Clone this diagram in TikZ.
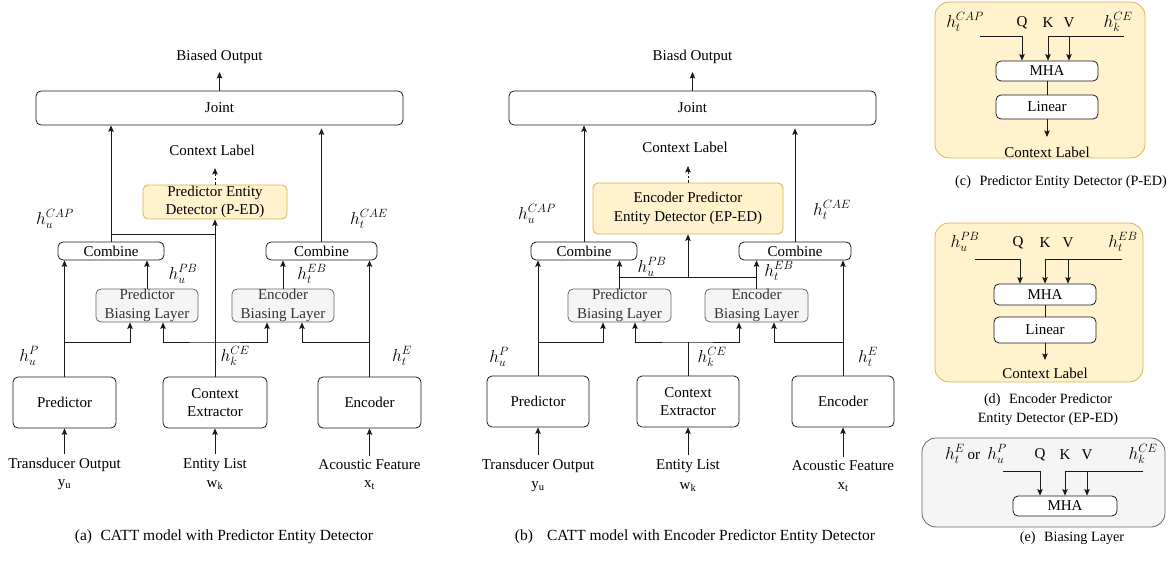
\documentclass[tikz,border=0pt]{standalone}
\usepackage{fontspec}
\setmainfont{Liberation Serif}
\usetikzlibrary{arrows.meta,calc}
\definecolor{edfill}{HTML}{FFF2CC}
\definecolor{eddraw}{HTML}{D6B656}
\definecolor{blfill}{HTML}{F5F5F5}
\definecolor{bldraw}{HTML}{666666}
\definecolor{bltext}{HTML}{333333}
\definecolor{wire}{HTML}{1A1A1A}
\tikzset{
  base/.style={font=\fontsize{15}{18.5}\selectfont},
  box/.style={base, draw=wire, line width=0.8pt, fill=white, rounded corners=5pt, inner sep=0pt, align=center},
  edbox/.style={box, fill=edfill, draw=eddraw},
  blbox/.style={box, fill=blfill, draw=bldraw, text=bltext},
  lbl/.style={base, inner sep=0pt, align=center},
  mlbl/.style={font=\fontsize{17.28}{20}\selectfont, inner sep=0pt, align=center},
  captext/.style={font=\fontsize{15.5}{18}\selectfont, inner sep=0pt, align=center},
  smallcap/.style={font=\fontsize{14.2}{19}\selectfont, inner sep=0pt, align=center},
  wireline/.style={draw=wire, line width=0.8pt},
  arr/.style={wireline, -{Stealth[length=6.5pt,width=5.5pt,inset=1.2pt]}},
  darr/.style={arr, dashed, dash pattern=on 2.5pt off 2pt},
  twoarr/.style={wireline, {Stealth[length=6.5pt,width=5.5pt,inset=1.2pt]}-{Stealth[length=6.5pt,width=5.5pt,inset=1.2pt]}},
  panel/.style={line width=0.8pt, rounded corners=14pt}
}
\begin{document}
\begin{tikzpicture}[x=1pt,y=-1pt]
\useasboundingbox (0,0) rectangle (1170,572);

% ================= Panel (a) =================
\node[box, minimum width=367pt, minimum height=34pt] (joinA) at (219.5,108) {Joint};
\node[lbl] (boA) at (219.5,57) {Biased Output};
\coordinate (boAtip) at (219.5,72);
\draw[arr] (joinA.north) -- (boAtip);

\node[edbox, minimum width=144pt, minimum height=34pt] (pedA) at (215,202) {Predictor Entity\\Detector (P-ED)};
\node[lbl] (clA) at (212,150) {Context Label};
\coordinate (clAtip) at (215,168);
\draw[darr] (pedA.north) -- (clAtip);

\node[box, minimum width=106pt, minimum height=18pt] (combLA) at (111,251) {Combine};
\node[box, minimum width=111pt, minimum height=18pt] (combRA) at (321.5,251) {Combine};
\node[blbox, minimum width=102pt, minimum height=33pt] (pblA) at (147,305.5) {Predictor\\Biasing Layer};
\node[blbox, minimum width=102pt, minimum height=33pt] (eblA) at (283,305.5) {Encoder\\Biasing Layer};
\node[box, minimum width=103pt, minimum height=51pt] (predA) at (64.5,402.5) {Predictor};
\node[box, minimum width=104pt, minimum height=51pt] (ceA) at (215,402.5) {Context\\Extractor};
\node[box, minimum width=103pt, minimum height=51pt] (encA) at (369.5,402.5) {Encoder};

\draw[arr] (combLA.north) -- (combLA.north |- joinA.south);
\draw[arr] (combRA.north) -- ($(combRA.north |- joinA.south)+(0,3)$);
\coordinate (capA) at (111,234);
\draw[wireline] (capA) -- (capA -| ceA.north);
\draw[arr] (ceA.north) -- (pedA.south);
\draw[arr] (predA.north) -- (predA.north |- combLA.south);
\draw[arr] (encA.north) -- (encA.north |- combRA.south);
\draw[arr] (pblA.north) -- (pblA.north |- combLA.south);
\draw[arr] (eblA.north) -- (eblA.north |- combRA.south);
\coordinate (kvA) at (215,342);
\draw[arr] (predA.north |- kvA) -| ($(pblA.south)+(-17,0)$);
\draw[twoarr] ($(pblA.south)+(16,0)$) |- (kvA) -| ($(eblA.south)+(-16,0)$);
\draw[arr] (encA.north |- kvA) -| ($(eblA.south)+(19,0)$);

\node[mlbl] at (55,219) {$h_u^{CAP}$};
\node[mlbl] at (369,219) {$h_t^{CAE}$};
\node[mlbl] at (183,274) {$h_u^{PB}$};
\node[mlbl] at (312,274) {$h_t^{EB}$};
\node[mlbl] at (29,356) {$h_u^{P}$};
\node[mlbl] at (235,356) {$h_k^{CE}$};
\node[mlbl] at (402,356) {$h_t^{E}$};

\node[lbl] (inA1) at (64.5,465) {Transducer Output};
\node[lbl] at (64.5,485) {y\textsubscript{u}};
\node[lbl] (inA2) at (215,465) {Entity List};
\node[lbl] at (215,485) {w\textsubscript{k}};
\node[lbl] (inA3) at (369.5,465) {Acoustic Feature};
\node[lbl] at (369.5,485) {x\textsubscript{t}};
\draw[arr] ($(inA1.north)+(0,-4)$) -- (predA.south);
\draw[arr] ($(inA2.north)+(0,-4)$) -- (ceA.south);
\draw[arr] ($(inA3.north)+(0,-4)$) -- (encA.south);

\node[captext] at (224,537) {(a)\hspace{0.55em}CATT model with Predictor Entity Detector};

% ================= Panel (b) =================
\node[box, minimum width=367pt, minimum height=34pt] (joinB) at (692.5,108) {Joint};
\node[lbl] (boB) at (692.5,57) {Biasd Output};
\coordinate (boBtip) at (692.5,72);
\draw[arr] (joinB.north) -- (boBtip);

\node[edbox, minimum width=190pt, minimum height=51pt] (epedB) at (688,208.5) {Encoder Predictor\\Entity Detector (EP-ED)};
\node[lbl] (clB) at (685,147) {Context Label};
\coordinate (clBtip) at (688,166);
\draw[darr] (epedB.north) -- (clBtip);

\node[box, minimum width=106pt, minimum height=18pt] (combLB) at (584,251) {Combine};
\node[box, minimum width=112pt, minimum height=18pt] (combRB) at (795,251) {Combine};
\node[blbox, minimum width=103pt, minimum height=33pt] (pblB) at (619.5,305.5) {Predictor\\Biasing Layer};
\node[blbox, minimum width=103pt, minimum height=33pt] (eblB) at (756.5,305.5) {Encoder\\Biasing Layer};
\node[box, minimum width=102pt, minimum height=51pt] (predB) at (538,401.5) {Predictor};
\node[box, minimum width=102pt, minimum height=51pt] (ceB) at (688,401.5) {Context\\Extractor};
\node[box, minimum width=102pt, minimum height=51pt] (encB) at (843,401.5) {Encoder};

\draw[arr] (combLB.north) -- (combLB.north |- joinB.south);
\draw[arr] (combRB.north) -- ($(combRB.north |- joinB.south)+(0,3)$);
\draw[arr] (pblB.north) -- (pblB.north |- combLB.south);
\draw[arr] (eblB.north) -- (eblB.north |- combRB.south);
\coordinate (midB) at (688,277);
\draw[wireline] (pblB.north |- midB) -- (eblB.north |- midB);
\draw[arr] (midB) -- (epedB.south);
\draw[arr] (predB.north) -- (predB.north |- combLB.south);
\draw[arr] (encB.north) -- (encB.north |- combRB.south);
\coordinate (kvB) at (688,342);
\draw[wireline] (ceB.north) -- (kvB);
\draw[arr] (predB.north |- kvB) -| ($(pblB.south)+(-16.5,0)$);
\draw[twoarr] ($(pblB.south)+(15.5,0)$) |- (kvB) -| ($(eblB.south)+(-17.5,0)$);
\draw[arr] (encB.north |- kvB) -| ($(eblB.south)+(17.5,0)$);

\node[mlbl] at (537,214) {$h_u^{CAP}$};
\node[mlbl] at (832,210) {$h_t^{CAE}$};
\node[mlbl] at (652,267) {$h_u^{PB}$};
\node[mlbl] at (779,271) {$h_t^{EB}$};
\node[mlbl] at (499,357) {$h_u^{P}$};
\node[mlbl] at (712,357) {$h_k^{CE}$};
\node[mlbl] at (868,357) {$h_t^{E}$};

\node[lbl] (inB1) at (538,466) {Transducer Output};
\node[lbl] at (538,487) {y\textsubscript{u}};
\node[lbl] (inB2) at (688,466) {Entity List};
\node[lbl] at (688,487) {w\textsubscript{k}};
\node[lbl] (inB3) at (843,466) {Acoustic Feature};
\node[lbl] at (843,487) {x\textsubscript{t}};
\draw[arr] ($(inB1.north)+(0,-4)$) -- (predB.south);
\draw[arr] ($(inB2.north)+(0,-4)$) -- (ceB.south);
\draw[arr] ($(inB3.north)+(0,-4)$) -- (encB.south);

\node[captext] at (695,537) {(b)\hspace{0.9em}CATT model with Encoder Predictor Entity Detector};

% ================= Panel (c) =================
\draw[panel, fill=edfill, draw=eddraw] (935,2) rectangle (1145,158);
\node[box, minimum width=102pt, minimum height=20pt] (mhaC) at (1047,71) {MHA};
\node[box, minimum width=102pt, minimum height=24pt] (linC) at (1047,107) {Linear};
\node[mlbl] at (965,22) {$h_t^{CAP}$};
\node[lbl] at (1022,23) {Q};
\node[lbl] at (1048,23) {K};
\node[lbl] at (1069,23) {V};
\node[mlbl] at (1118,22) {$h_k^{CE}$};
\coordinate (qC) at (980,36);
\coordinate (kvC) at (1124,36);
\coordinate (qinC) at ($(mhaC.north)+(-25,0)$);
\coordinate (kinC) at ($(mhaC.north)+(1,0)$);
\coordinate (vinC) at ($(mhaC.north)+(22,0)$);
\draw[arr] (qC) -| (qinC);
\draw[arr] (kvC) -| (kinC);
\draw[arr] (vinC |- kvC) -- (vinC);
\draw[wireline] (mhaC.south) -- (linC.north);
\node[lbl] (clC) at (1047,152) {Context Label};
\coordinate (clCtip) at (1047,137);
\draw[arr] (linC.south) -- (clCtip);
\node[smallcap] at (1061,182) {(c)\hspace{0.6em}Predictor Entity Detector (P-ED)};

% ================= Panel (d) =================
\draw[panel, fill=edfill, draw=eddraw] (935,223) rectangle (1143,382);
\node[box, minimum width=102pt, minimum height=21pt] (mhaD) at (1045,294.5) {MHA};
\node[box, minimum width=102pt, minimum height=26pt] (linD) at (1045,330) {Linear};
\node[mlbl] at (965,242) {$h_u^{PB}$};
\node[lbl] at (1018,243) {Q};
\node[lbl] at (1045,243) {K};
\node[lbl] at (1068,243) {V};
\node[mlbl] at (1123,242) {$h_t^{EB}$};
\coordinate (qD) at (975,259);
\coordinate (kvD) at (1122,259);
\coordinate (qinD) at ($(mhaD.north)+(-25,0)$);
\coordinate (vinD) at ($(mhaD.north)+(23,0)$);
\draw[arr] (qD) -| (qinD);
\draw[arr] (kvD) -| (mhaD.north);
\draw[arr] (vinD |- kvD) -- (vinD);
\draw[wireline] (mhaD.south) -- (linD.north);
\node[lbl] (clD) at (1045,373) {Context Label};
\coordinate (clDtip) at (1045,360);
\draw[arr] (linD.south) -- (clDtip);
\node[smallcap] at (1048,409.5) {(d)\hspace{0.6em}Encoder Predictor\\Entity Detector (EP-ED)};

% ================= Panel (e) =================
\draw[panel, fill=blfill, draw=bldraw] (922,438) rectangle (1165,527);
\node[box, minimum width=104pt, minimum height=20pt] (mhaE) at (1065,506) {MHA};
\node[mlbl] at (976,454) {$h_t^{E}$\,{\fontsize{15}{18}\selectfont or}\, $h_u^{P}$};
\node[lbl] at (1040,455) {Q};
\node[lbl] at (1065,455) {K};
\node[lbl] at (1087,455) {V};
\node[mlbl] at (1143,454) {$h_k^{CE}$};
\coordinate (qE) at (1003,471);
\coordinate (kvE) at (1143,471);
\coordinate (qinE) at ($(mhaE.north)+(-25,0)$);
\coordinate (vinE) at ($(mhaE.north)+(22,0)$);
\draw[arr] (qE) -| (qinE);
\draw[arr] (kvE) -| (mhaE.north);
\draw[arr] (vinE |- kvE) -- (vinE);
\node[smallcap] at (1072,538) {(e)\hspace{0.6em}Biasing Layer};
\end{tikzpicture}
\end{document}
